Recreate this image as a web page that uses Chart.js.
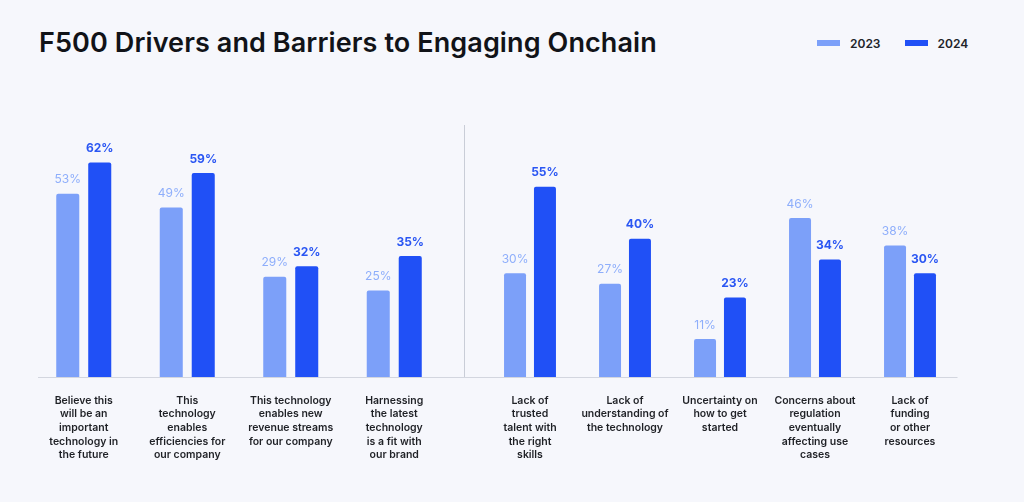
<!DOCTYPE html>
<html>
<head>
<meta charset="utf-8">
<script src="https://cdn.jsdelivr.net/npm/chart.js@4/dist/chart.umd.min.js"></script>
<style>
    html, body { margin: 0; padding: 0; }
    body {
        width: 1024px;
        height: 502px;
        background: #f6f7fc;
        position: relative;
        overflow: hidden;
        font-family: Inter, "Noto Sans", sans-serif;
    }
    #title {
        position: absolute;
        left: 39px;
        top: 30px;
        font-size: 27px;
        line-height: 26px;
        font-weight: 600;
        color: #111318;
        letter-spacing: 0.1px;
    }
    #legend {
        position: absolute;
        left: 817px;
        top: 36px;
        height: 14px;
        display: flex;
        align-items: center;
    }
    .legend-item { display: flex; align-items: center; margin-right: 24px; }
    .legend-swatch { width: 23px; height: 6px; margin-right: 10px; }
    .legend-text { font-size: 12px; font-weight: 600; color: #22242a; }
    #left-wrap { position: absolute; left: 0; top: 0; width: 464px; height: 502px; }
    #right-wrap { position: absolute; left: 464px; top: 0; width: 560px; height: 502px; }
</style>
</head>
<body>
<div id="title">F500 Drivers and Barriers to Engaging Onchain</div>
<div id="legend"></div>
<div id="left-wrap"><canvas id="drivers-chart"></canvas></div>
<div id="right-wrap"><canvas id="barriers-chart"></canvas></div>

<script>
const seriesNames = ['2023', '2024'];
const seriesColors = ['#7ca0f9', '#2050f6'];
const valueLabelColors = ['#8eaefb', '#2a56f3'];

const driverLabels = [
    ['Believe this', 'will be an', 'important', 'technology in', 'the future'],
    ['This', 'technology', 'enables', 'efficiencies for', 'our company'],
    ['This technology', 'enables new', 'revenue streams', 'for our company'],
    ['Harnessing', 'the latest', 'technology', 'is a fit with', 'our brand']
];
const drivers2023 = [53, 49, 29, 25];
const drivers2024 = [62, 59, 32, 35];

const barrierLabels = [
    ['Lack of', 'trusted', 'talent with', 'the right', 'skills'],
    ['Lack of', 'understanding of', 'the technology'],
    ['Uncertainty on', 'how to get', 'started'],
    ['Concerns about', 'regulation', 'eventually', 'affecting use', 'cases'],
    ['Lack of', 'funding', 'or other', 'resources']
];
const barriers2023 = [30, 27, 11, 46, 38];
const barriers2024 = [55, 40, 23, 34, 30];

// value labels above each bar
const valueLabels = {
    id: 'valueLabels',
    afterDatasetsDraw(chart) {
        const ctx = chart.ctx;
        chart.data.datasets.forEach((ds, i) => {
            const meta = chart.getDatasetMeta(i);
            ctx.save();
            ctx.font = (i === 1 ? '700 ' : '400 ') + '12px Inter, sans-serif';
            ctx.fillStyle = valueLabelColors[i];
            ctx.textAlign = 'center';
            ctx.textBaseline = 'middle';
            meta.data.forEach((bar, j) => {
                ctx.fillText(ds.data[j] + '%', bar.x, bar.y - 14);
            });
            ctx.restore();
        });
    }
};

// baseline and the divider between the two groups
const frameLines = {
    id: 'frameLines',
    beforeDatasetsDraw(chart, args, opts) {
        const ctx = chart.ctx;
        const area = chart.chartArea;
        ctx.save();
        ctx.strokeStyle = '#d3d6df';
        ctx.lineWidth = 1;
        ctx.beginPath();
        ctx.moveTo(area.left + opts.extendLeft, area.bottom + 0.5);
        ctx.lineTo(area.right + opts.extendRight, area.bottom + 0.5);
        ctx.stroke();
        if (opts.divider) {
            ctx.strokeStyle = '#c9cdd7';
            ctx.beginPath();
            ctx.moveTo(0.5, area.top - 3);
            ctx.lineTo(0.5, area.bottom);
            ctx.stroke();
        }
        ctx.restore();
    }
};

function createGroupChart(canvasId, labels, data2023, data2024, padding, barPct, catPct, frame) {
    const ctx = document.getElementById(canvasId).getContext('2d');
    return new Chart(ctx, {
        type: 'bar',
        data: {
            labels: labels,
            datasets: [data2023, data2024].map((d, i) => ({
                label: seriesNames[i],
                data: d,
                backgroundColor: seriesColors[i],
                borderRadius: 2,
                barPercentage: barPct,
                categoryPercentage: catPct
            }))
        },
        options: {
            responsive: true,
            maintainAspectRatio: false,
            animation: false,
            layout: { padding: padding },
            plugins: {
                legend: { display: false },
                tooltip: { enabled: false },
                frameLines: frame
            },
            scales: {
                y: { display: false, min: 0, max: 72 },
                x: {
                    grid: { display: false, drawTicks: false },
                    border: { display: false },
                    afterFit: scale => { scale.height = 100; },
                    ticks: {
                        padding: 17,
                        maxRotation: 0,
                        autoSkip: false,
                        color: '#1f2126',
                        font: { family: 'Inter', size: 10.5, weight: '600', lineHeight: 1.29 }
                    }
                }
            }
        },
        plugins: [valueLabels, frameLines]
    });
}

function buildLegend() {
    const legend = document.getElementById('legend');
    seriesNames.forEach((name, i) => {
        const item = document.createElement('div');
        item.className = 'legend-item';
        item.innerHTML = '<span class="legend-swatch" style="background:' + seriesColors[i] + '"></span>' +
            '<span class="legend-text">' + name + '</span>';
        legend.appendChild(item);
    });
}

document.addEventListener('DOMContentLoaded', function () {
    buildLegend();
    createGroupChart('drivers-chart', driverLabels, drivers2023, drivers2024,
        { left: 32, right: 18, top: 128, bottom: 25 }, 0.72, 0.618,
        { extendLeft: 6, extendRight: 18, divider: false });
    createGroupChart('barriers-chart', barrierLabels, barriers2023, barriers2024,
        { left: 18.5, right: 66.5, top: 128, bottom: 25 }, 0.735, 0.63,
        { extendLeft: -18.5, extendRight: 0, divider: true });
});
</script>
</body>
</html>
